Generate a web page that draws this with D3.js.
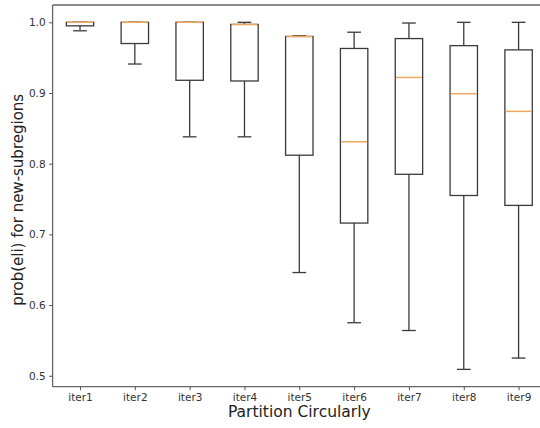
<!DOCTYPE html>
<html>
<head>
<meta charset="utf-8">
<script src="https://cdn.jsdelivr.net/npm/d3@7/dist/d3.min.js"></script>
<style>
  html, body { margin: 0; padding: 0; background: #fff; overflow: hidden; }
  svg { display: block; font-family: "DejaVu Sans", sans-serif; }
</style>
</head>
<body>
<svg id="chart" width="540" height="428"></svg>
<script>
// Box-plot summaries per partition iteration
const categories = ["iter1", "iter2", "iter3", "iter4", "iter5", "iter6", "iter7", "iter8", "iter9"];
const whiskerLow  = [0.988, 0.941, 0.838, 0.838, 0.646, 0.575, 0.564, 0.509, 0.525];
const q1          = [0.995, 0.970, 0.918, 0.917, 0.812, 0.716, 0.785, 0.755, 0.741];
const median      = [1.000, 1.000, 1.000, 0.997, 0.980, 0.831, 0.922, 0.899, 0.874];
const q3          = [1.000, 1.000, 1.000, 0.997, 0.980, 0.963, 0.977, 0.967, 0.961];
const whiskerHigh = [1.000, 1.000, 1.000, 1.000, 0.981, 0.986, 0.999, 1.000, 1.000];
const yTicks = [0.5, 0.6, 0.7, 0.8, 0.9, 1.0];

const svg = d3.select("#chart");
const plotLeft = 52.6, plotRight = 546, plotTop = 5, plotBottom = 386.7;

const x = d3.scaleLinear().domain([0.5, categories.length + 0.5]).range([plotLeft, plotRight]);
const y = d3.scaleLinear().domain([0.4845, 1.0245]).range([plotBottom, plotTop]);

const boxW = x(1.5) - x(1);      // box width 0.5 of a slot
const capW = boxW / 2;

const lineColor = "#3a3a3a";
const medColor = "#efa860";

// Axes spines (left, top, bottom; the right one lies past the page edge)
const spine = svg.append("g").attr("stroke", "#666").attr("stroke-width", 1.3);
spine.append("line").attr("x1", plotLeft).attr("x2", plotLeft).attr("y1", plotTop).attr("y2", plotBottom);
spine.append("line").attr("x1", plotLeft).attr("x2", plotRight).attr("y1", plotTop).attr("y2", plotTop);
spine.append("line").attr("x1", plotLeft).attr("x2", plotRight).attr("y1", plotBottom).attr("y2", plotBottom);

// Y axis
const yAxis = svg.append("g")
  .attr("transform", `translate(${plotLeft},0)`)
  .call(d3.axisLeft(y).tickValues(yTicks).tickFormat(d3.format(".1f")).tickSize(3.5).tickPadding(3.5));
yAxis.select(".domain").remove();
yAxis.selectAll("line").attr("stroke", "#555").attr("stroke-width", 1);
yAxis.selectAll("text").attr("fill", "#333").style("font-size", "10.5px").style("font-family", "DejaVu Sans, sans-serif");

// X axis
const xAxis = svg.append("g")
  .attr("transform", `translate(0,${plotBottom})`)
  .call(d3.axisBottom(x).tickValues(d3.range(1, categories.length + 1))
        .tickFormat((d) => categories[d - 1]).tickSize(3.5).tickPadding(3.5));
xAxis.select(".domain").remove();
xAxis.selectAll("line").attr("stroke", "#555").attr("stroke-width", 1);
xAxis.selectAll("text").attr("fill", "#333").style("font-size", "10.5px").style("font-family", "DejaVu Sans, sans-serif");

// Boxes
const data = categories.map((c, i) => ({
  pos: i + 1, lo: whiskerLow[i], q1: q1[i], med: median[i], q3: q3[i], hi: whiskerHigh[i]
}));

const g = svg.append("g").attr("fill", "none").attr("stroke", lineColor).attr("stroke-width", 1.3);
const b = g.selectAll("g.box").data(data).join("g").attr("class", "box");

// whiskers
b.append("line")
  .attr("x1", (d) => x(d.pos)).attr("x2", (d) => x(d.pos))
  .attr("y1", (d) => y(d.lo)).attr("y2", (d) => y(d.q1));
b.append("line")
  .attr("x1", (d) => x(d.pos)).attr("x2", (d) => x(d.pos))
  .attr("y1", (d) => y(d.q3)).attr("y2", (d) => y(d.hi));
// caps
b.append("line")
  .attr("x1", (d) => x(d.pos) - capW / 2).attr("x2", (d) => x(d.pos) + capW / 2)
  .attr("y1", (d) => y(d.lo)).attr("y2", (d) => y(d.lo));
b.append("line")
  .attr("x1", (d) => x(d.pos) - capW / 2).attr("x2", (d) => x(d.pos) + capW / 2)
  .attr("y1", (d) => y(d.hi)).attr("y2", (d) => y(d.hi));
// box
b.append("rect")
  .attr("x", (d) => x(d.pos) - boxW / 2).attr("width", boxW)
  .attr("y", (d) => y(d.q3)).attr("height", (d) => Math.max(0.01, y(d.q1) - y(d.q3)));
// median
b.append("line")
  .attr("stroke", medColor).attr("stroke-width", 1.5)
  .attr("x1", (d) => x(d.pos) - boxW / 2 + 0.7).attr("x2", (d) => x(d.pos) + boxW / 2 - 0.7)
  .attr("y1", (d) => y(d.med)).attr("y2", (d) => y(d.med));

// Axis titles
svg.append("text")
  .attr("x", (plotLeft + plotRight) / 2).attr("y", 417)
  .attr("text-anchor", "middle").attr("fill", "#222")
  .style("font-size", "15.5px")
  .text("Partition Circularly");

svg.append("text")
  .attr("transform", `translate(23,${(plotTop + plotBottom) / 2 + 4}) rotate(-90)`)
  .attr("text-anchor", "middle").attr("fill", "#222")
  .style("font-size", "15px")
  .text("prob(eli) for new-subregions");
</script>
</body>
</html>
